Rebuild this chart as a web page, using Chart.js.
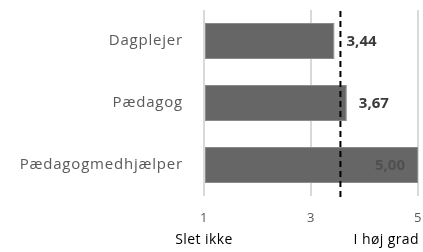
<!DOCTYPE html>
<html><head><meta charset="utf-8">
<script src="https://cdn.jsdelivr.net/npm/chart.js@4/dist/chart.umd.min.js"></script>
<style>html,body{margin:0;padding:0;background:#fff}</style>
</head><body><canvas id="c" width="423" height="252"></canvas>
<script>
const categories = ["Dagplejer", "Pædagog", "Pædagogmedhjælper"];
const values = [3.44, 3.67, 5.00];
const referenceValue = 3.55;
const tickValues = [1, 3, 5];
const axisEndLabels = ["Slet ikke", "I høj grad"];

const FONT = "'Open Sans', Lato, sans-serif";
const fmt = v => v.toFixed(2).replace('.', ',');

const extras = {
  id: 'extras',
  beforeDraw(chart) { chart.ctx.letterSpacing = '0.8px'; },
  beforeDatasetsDraw(chart) { chart.ctx.letterSpacing = '0px'; },
  afterDatasetsDraw(chart) {
    const ctx = chart.ctx, xs = chart.scales.x, ca = chart.chartArea;
    const rx = xs.getPixelForValue(referenceValue);
    ctx.save();
    ctx.strokeStyle = '#000'; ctx.lineWidth = 2; ctx.setLineDash([6, 4]);
    ctx.beginPath(); ctx.moveTo(rx, ca.top + 1); ctx.lineTo(rx, ca.bottom + 3); ctx.stroke();
    ctx.restore();
    const meta = chart.getDatasetMeta(0);
    ctx.save();
    ctx.font = "bold 15px " + FONT;
    ctx.textBaseline = 'middle';
    meta.data.forEach((bar, i) => {
      const v = values[i];
      if (v >= xs.max) {
        ctx.fillStyle = '#505050'; ctx.textAlign = 'right';
        ctx.fillText(fmt(v), bar.x - 13, bar.y + 1);
      } else {
        ctx.fillStyle = '#3a3a3a'; ctx.textAlign = 'left';
        ctx.fillText(fmt(v), bar.x + 12, bar.y + 1);
      }
    });
    ctx.fillStyle = '#000'; ctx.font = "14px " + FONT;
    ctx.letterSpacing = '0.4px';
    ctx.textAlign = 'center'; ctx.textBaseline = 'middle';
    ctx.fillText(axisEndLabels[0], xs.getPixelForValue(xs.min), 240);
    ctx.textAlign = 'right';
    ctx.fillText(axisEndLabels[1], xs.getPixelForValue(xs.max) + 1, 240);
    ctx.restore();
  }
};

new Chart(document.getElementById('c'), {
  type: 'bar',
  data: {
    labels: categories,
    datasets: [{
      data: values,
      backgroundColor: '#666666',
      borderColor: '#8a8a8a',
      borderWidth: 1,
      borderSkipped: false,
      categoryPercentage: 1,
      barPercentage: 0.58,
      base: 1
    }]
  },
  options: {
    indexAxis: 'y',
    responsive: false,
    animation: false,
    layout: { padding: { top: 10, right: 5, left: 0, bottom: 0 } },
    plugins: { legend: { display: false }, tooltip: { enabled: false } },
    scales: {
      x: {
        min: 1, max: 5,
        afterBuildTicks: s => { s.ticks = tickValues.map(v => ({ value: v })); },
        afterFit: s => { s.height = 56; s.paddingLeft = 0; s.paddingRight = 0; },
        grid: { color: '#d9d9d9', lineWidth: 2, drawTicks: false },
        border: { display: false },
        ticks: { color: '#595959', font: { family: FONT, size: 13 }, padding: 14 }
      },
      y: {
        afterFit: s => { s.width = 204; s.paddingTop = 0; s.paddingBottom = 0; },
        grid: { display: false, drawTicks: false },
        border: { display: false },
        ticks: { color: '#595959', font: { family: FONT, size: 15 }, padding: 21 }
      }
    }
  },
  plugins: [extras]
});
</script></body></html>
